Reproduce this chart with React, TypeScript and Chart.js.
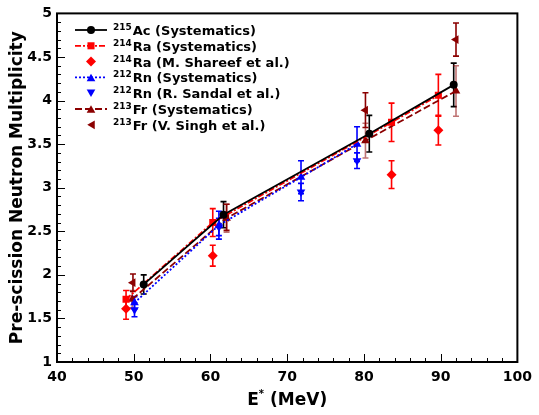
import React, { useEffect, useRef } from 'react';
import { Chart, registerables } from 'chart.js';
Chart.register(...registerables);

// E* (MeV) and pre-scission neutron multiplicity with errors
const acE = [51.3, 61.7, 80.7, 91.7];
const acM = [1.89, 2.69, 3.62, 4.18];
const acErr = [0.11, 0.15, 0.21, 0.25];

const raSysE = [49.0, 60.3, 83.6, 89.7];
const raSysM = [1.72, 2.60, 3.75, 4.06];
const raSysErr = [0.10, 0.16, 0.22, 0.24];

const raExpE = [49.0, 60.3, 83.6, 89.7];
const raExpM = [1.61, 2.22, 3.15, 3.66];
const raExpErr = [0.12, 0.12, 0.16, 0.17];

const rnSysE = [50.1, 61.1, 71.8, 79.1];
const rnSysM = [1.68, 2.57, 3.12, 3.50];
const rnSysErr = [0.07, 0.16, 0.19, 0.20];

const rnExpE = [50.1, 61.1, 71.8, 79.1];
const rnExpM = [1.60, 2.55, 2.95, 3.31];
const rnExpErr = [0.08, 0.10, 0.10, 0.09];

const frSysE = [49.8, 62.1, 80.2, 92.0];
const frSysM = [1.72, 2.65, 3.54, 4.11];
const frSysErr = [0.10, 0.16, 0.20, 0.29];

const frExpE = [49.9, 62.1, 80.2, 92.0];
const frExpM = [1.91, 2.66, 3.89, 4.70];
const frExpErr = [0.10, 0.15, 0.20, 0.19];

const legendSup = ['215', '214', '214', '212', '212', '213', '213'];
const legendMain = [
  'Ac (Systematics)',
  'Ra (Systematics)',
  'Ra (M. Shareef et al.)',
  'Rn (Systematics)',
  'Rn (R. Sandal et al.)',
  'Fr (Systematics)',
  'Fr (V. Singh et al.)',
];

const xTitleMain = 'E';
const xTitleSup = '*';
const xTitleRest = ' (MeV)';
const yTitle = 'Pre-scission Neutron Multiplicity';

const FONT = '"DejaVu Sans", sans-serif';
const DARKRED = '#8b0000';

function pts(xs: number[], ys: number[]) {
  return xs.map((x, i) => ({ x, y: ys[i] }));
}

function drawMarker(ctx: CanvasRenderingContext2D, style: string, x: number, y: number, r: number, rot: number, color: string) {
  ctx.save();
  ctx.translate(x, y);
  ctx.rotate((rot * Math.PI) / 180);
  ctx.fillStyle = color;
  ctx.beginPath();
  if (style === 'circle') {
    ctx.arc(0, 0, r, 0, Math.PI * 2);
  } else if (style === 'rect') {
    const s = r * Math.SQRT1_2;
    ctx.rect(-s, -s, 2 * s, 2 * s);
  } else if (style === 'rectRot') {
    ctx.moveTo(0, -r);
    ctx.lineTo(r, 0);
    ctx.lineTo(0, r);
    ctx.lineTo(-r, 0);
    ctx.closePath();
  } else if (style === 'triangle') {
    for (let k = 0; k < 3; k++) {
      const a = -Math.PI / 2 + (k * 2 * Math.PI) / 3;
      const px = Math.cos(a) * r;
      const py = Math.sin(a) * r + r * 0.25;
      if (k === 0) ctx.moveTo(px, py);
      else ctx.lineTo(px, py);
    }
    ctx.closePath();
  }
  ctx.fill();
  ctx.restore();
}

const errorBarPlugin = {
  id: 'errorBars',
  beforeDatasetsDraw(chart: any) {
    const ctx = chart.ctx as CanvasRenderingContext2D;
    const xs = chart.scales.x;
    const ys = chart.scales.y;
    chart.data.datasets.forEach((ds: any) => {
      const errs: number[] = ds.errors || [];
      ctx.save();
      ctx.strokeStyle = ds.errColor || ds.borderColor;
      ctx.lineWidth = 1.6;
      ds.data.forEach((p: any, j: number) => {
        const e = errs[j];
        if (!e) return;
        const px = xs.getPixelForValue(p.x);
        const t = ys.getPixelForValue(p.y + e);
        const b = ys.getPixelForValue(p.y - e);
        ctx.beginPath();
        ctx.moveTo(px, t);
        ctx.lineTo(px, b);
        ctx.moveTo(px - 3, t);
        ctx.lineTo(px + 3, t);
        ctx.moveTo(px - 3, b);
        ctx.lineTo(px + 3, b);
        ctx.stroke();
      });
      ctx.restore();
    });
  },
};

const framePlugin = {
  id: 'frame',
  afterDraw(chart: any) {
    const ctx = chart.ctx as CanvasRenderingContext2D;
    const a = chart.chartArea;
    const xs = chart.scales.x;
    const ys = chart.scales.y;
    ctx.save();
    ctx.strokeStyle = '#000';
    // ticks
    ctx.lineWidth = 1;
    ctx.beginPath();
    for (let v = 40; v <= 100.001; v += 2) {
      const px = Math.round(xs.getPixelForValue(v)) + 0.5;
      const len = Math.abs(v % 10) < 0.01 ? 8 : 4;
      ctx.moveTo(px, a.bottom);
      ctx.lineTo(px, a.bottom - len);
    }
    for (let k = 0; k <= 40; k++) {
      const v = 1 + k * 0.1;
      const py = Math.round(ys.getPixelForValue(v)) + 0.5;
      const len = k % 5 === 0 ? 8 : 4;
      ctx.moveTo(a.left, py);
      ctx.lineTo(a.left + len, py);
    }
    ctx.stroke();
    // frame
    ctx.lineWidth = 2;
    ctx.strokeRect(a.left, a.top, a.right - a.left, a.bottom - a.top);

    // x title
    ctx.fillStyle = '#000';
    ctx.textBaseline = 'alphabetic';
    ctx.font = `bold 17px ${FONT}`;
    const w1 = ctx.measureText(xTitleMain).width;
    const w3 = ctx.measureText(xTitleRest).width;
    ctx.font = `bold 10px ${FONT}`;
    const w2 = ctx.measureText(xTitleSup).width;
    const total = w1 + w2 + w3;
    let cx = (a.left + a.right) / 2 - total / 2;
    const by = 405;
    ctx.font = `bold 17px ${FONT}`;
    ctx.fillText(xTitleMain, cx, by);
    cx += w1;
    ctx.font = `bold 10px ${FONT}`;
    ctx.fillText(xTitleSup, cx, by - 8);
    cx += w2;
    ctx.font = `bold 17px ${FONT}`;
    ctx.fillText(xTitleRest, cx, by);

    // y title
    ctx.save();
    ctx.translate(22, (a.top + a.bottom) / 2);
    ctx.rotate(-Math.PI / 2);
    ctx.textAlign = 'center';
    ctx.textBaseline = 'alphabetic';
    ctx.font = `bold 17px ${FONT}`;
    ctx.fillText(yTitle, 0, 0);
    ctx.restore();

    // legend
    const x0 = 75;
    const x1 = 107;
    chart.data.datasets.forEach((ds: any, i: number) => {
      const y = 30 + i * 15.8;
      if (ds.showLine) {
        ctx.save();
        ctx.strokeStyle = ds.borderColor;
        ctx.lineWidth = ds.borderWidth;
        ctx.setLineDash(ds.borderDash || []);
        ctx.beginPath();
        ctx.moveTo(x0, y);
        ctx.lineTo(x1, y);
        ctx.stroke();
        ctx.restore();
      }
      drawMarker(ctx, ds.pointStyle, (x0 + x1) / 2, y, ds.pointRadius, ds.pointRotation || 0, ds.backgroundColor);
      ctx.fillStyle = '#000';
      ctx.textAlign = 'left';
      ctx.textBaseline = 'alphabetic';
      ctx.font = `bold 9px ${FONT}`;
      const sx = 113;
      ctx.fillText(legendSup[i], sx, y);
      const sw = ctx.measureText(legendSup[i]).width;
      ctx.font = `bold 13px ${FONT}`;
      ctx.fillText(legendMain[i], sx + sw + 1, y + 5);
    });
    ctx.restore();
  },
};

export default function App() {
  const ref = useRef<HTMLCanvasElement>(null);
  useEffect(() => {
    if (!ref.current) return;
    const base = { pointBorderWidth: 0, tension: 0, borderWidth: 1.8 };
    const chart = new Chart(ref.current, {
      type: 'scatter',
      data: {
        datasets: [
          {
            ...base, label: 'Ac sys', data: pts(acE, acM), errors: acErr, showLine: true,
            borderColor: '#000', backgroundColor: '#000', pointStyle: 'circle', pointRadius: 4, borderDash: [],
          },
          {
            ...base, label: 'Ra sys', data: pts(raSysE, raSysM), errors: raSysErr, showLine: true,
            borderColor: '#ff0000', backgroundColor: '#ff0000', pointStyle: 'rect', pointRadius: 5, borderDash: [6, 2, 2, 2],
          },
          {
            ...base, label: 'Ra exp', data: pts(raExpE, raExpM), errors: raExpErr, showLine: false,
            borderColor: '#ff0000', backgroundColor: '#ff0000', pointStyle: 'rectRot', pointRadius: 5,
          },
          {
            ...base, label: 'Rn sys', data: pts(rnSysE, rnSysM), errors: rnSysErr, showLine: true,
            borderColor: '#0000ff', backgroundColor: '#0000ff', pointStyle: 'triangle', pointRadius: 5, borderDash: [2, 2],
          },
          {
            ...base, label: 'Rn exp', data: pts(rnExpE, rnExpM), errors: rnExpErr, showLine: false,
            borderColor: '#0000ff', backgroundColor: '#0000ff', pointStyle: 'triangle', pointRadius: 5, pointRotation: 180,
          },
          {
            ...base, label: 'Fr sys', data: pts(frSysE, frSysM), errors: frSysErr, showLine: true,
            borderColor: DARKRED, backgroundColor: DARKRED, errColor: 'rgba(139,0,0,0.55)', pointStyle: 'triangle', pointRadius: 5, borderDash: [7, 3],
          },
          {
            ...base, label: 'Fr exp', data: pts(frExpE, frExpM), errors: frExpErr, showLine: false,
            borderColor: DARKRED, backgroundColor: DARKRED, pointStyle: 'triangle', pointRadius: 5, pointRotation: 270,
          },
        ] as any,
      },
      options: {
        animation: false,
        responsive: false,
        devicePixelRatio: 1,
        layout: { padding: { left: 0, top: 6, right: 16, bottom: 0 } },
        plugins: { legend: { display: false }, tooltip: { enabled: false } },
        scales: {
          x: {
            type: 'linear', min: 40, max: 100,
            grid: { display: false, drawTicks: false },
            border: { display: false },
            ticks: { stepSize: 10, padding: 7, color: '#000', font: { family: FONT, weight: 'bold', size: 14 }, callback: (v: any) => String(v) },
            afterFit: (s: any) => { s.height = 53; },
          },
          y: {
            type: 'linear', min: 1, max: 5,
            grid: { display: false, drawTicks: false },
            border: { display: false },
            ticks: { stepSize: 0.5, padding: 5, color: '#000', font: { family: FONT, weight: 'bold', size: 14 }, callback: (v: any) => String(Math.round(v * 10) / 10) },
            afterFit: (s: any) => { s.width = 57; },
          },
        },
      } as any,
      plugins: [errorBarPlugin, framePlugin],
    });
    return () => chart.destroy();
  }, []);
  return (
    <div style={{ position: 'absolute', left: 0, top: 0, width: 539, height: 415, background: '#fff' }}>
      <canvas ref={ref} width={539} height={415} />
    </div>
  );
}
